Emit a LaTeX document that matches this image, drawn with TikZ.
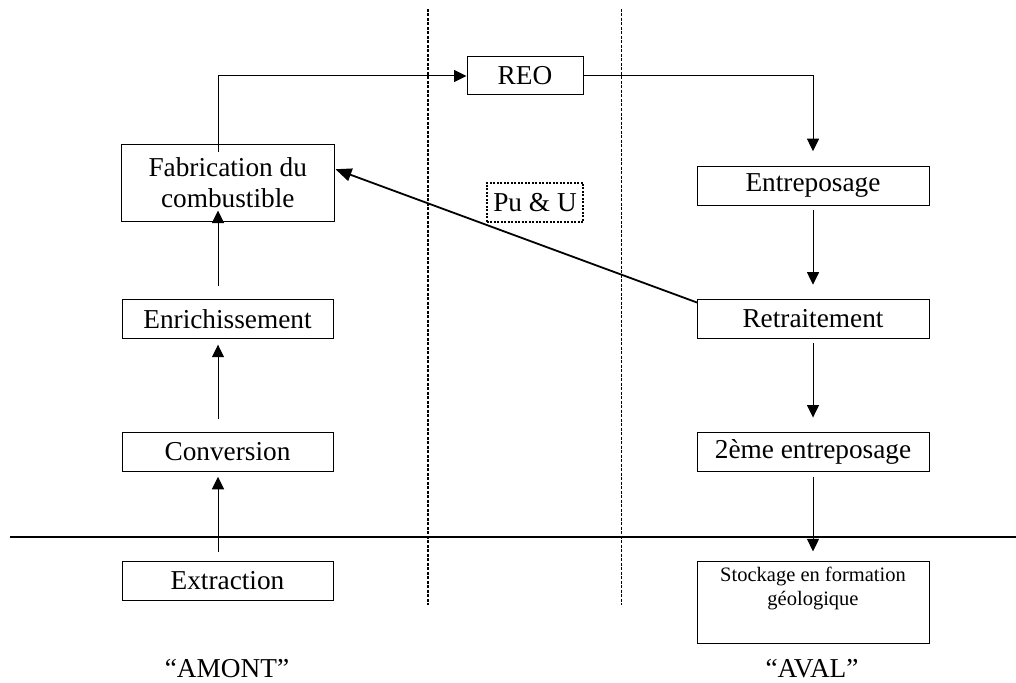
\documentclass[tikz,border=0pt]{standalone}
\usepackage{fontspec}
\setmainfont{Liberation Serif}
\usetikzlibrary{arrows.meta,calc}

\begin{document}
\begin{tikzpicture}[x=1pt,y=-1pt,
  every node/.style={font=\fontsize{27.3}{31}\selectfont},
  box/.style={draw=black,line width=1pt,rectangle,inner sep=0pt,align=center},
  arr/.style={line width=1pt,-{Triangle[length=12.5pt,width=12pt]}},
  sep/.style={line width=1.2pt,dash pattern=on 3pt off 1.5pt},
  puu/.style={draw=black,line width=2pt,dash pattern=on 2pt off 1.5pt,inner sep=0pt}
]
\useasboundingbox (0,0) rectangle (1016,682);

% separators
\draw[sep] (428,9) -- (428,605);
\draw[sep] (621.5,9) -- (621.5,605);
\draw[line width=2.2pt] (10,536.7) -- (1016,536.7);

% x of the left-hand flow line
\coordinate (lx) at (218,0);

% "amont" column
\node[box,minimum width=212.5pt,minimum height=77pt] (fab) at (227.75,182.5) {Fabrication du\\combustible};
\node[box,minimum width=211pt,minimum height=39pt] (enr) at (227.5,318.7) {Enrichissement};
\node[box,minimum width=211pt,minimum height=38.5pt] (conv) at (227.5,452) {Conversion};
\node[box,minimum width=211pt,minimum height=39pt] (extr) at (227.5,580.5) {Extraction};

% reactor
\node[box,minimum width=116pt,minimum height=38pt] (reo) at (525,76) {REO};

% "aval" column
\node[box,minimum width=232pt,minimum height=39pt] (entr) at (813,185.5) {Entreposage};
\node[box,minimum width=232pt,minimum height=39pt] (retr) at (813,318.7) {Retraitement};
\node[box,minimum width=232pt,minimum height=38.5pt] (deux) at (813,452) {2ème entreposage};
\node[box,minimum width=232pt,minimum height=82pt] (stock) at (813,602.2) {};
\node[anchor=north,align=center,inner sep=0pt,
      font=\fontsize{20.5}{24}\selectfont] (stocktxt) at ($(stock.north)+(0,6.5)$)
      {Stockage en formation\\géologique};

% recycled material
\node[puu,minimum width=96.6pt,minimum height=39.3pt] (pu) at (535,202.3) {Pu \& U};

% labels
\node[anchor=base] (amont) at (227,677) {“AMONT”};
\node[anchor=base] (aval) at (812,677) {“AVAL”};

% flow connectors
\draw[arr,shorten <=8.3pt,shorten >=5pt] (extr.north -| lx) -- (conv.south -| lx);
\draw[arr,shorten <=13.7pt,shorten >=6pt] (conv.north -| lx) -- (enr.south -| lx);
\draw[arr,shorten <=13pt,shorten >=-11pt] (enr.north -| lx) -- (fab.south -| lx);
\draw[arr,shorten <=-8pt] (fab.north -| lx) |- (reo.west);
\draw[arr,shorten >=14.3pt] (reo.east) -| (entr.north);
\draw[arr,shorten <=4.3pt,shorten >=14pt] (entr.south) -- (retr.north);
\draw[arr,shorten <=4.4pt,shorten >=14.7pt] (retr.south) -- (deux.north);
\draw[arr,shorten <=5pt,shorten >=9.3pt] (deux.south) -- (stock.north);
\draw[line width=1.8pt,-{Triangle[length=16pt,width=13pt]}]
  ($(retr.north west)+(1,4)$) -- ($(fab.north east)!0.33!(fab.south east)+(1,0)$);
\end{tikzpicture}
\end{document}
